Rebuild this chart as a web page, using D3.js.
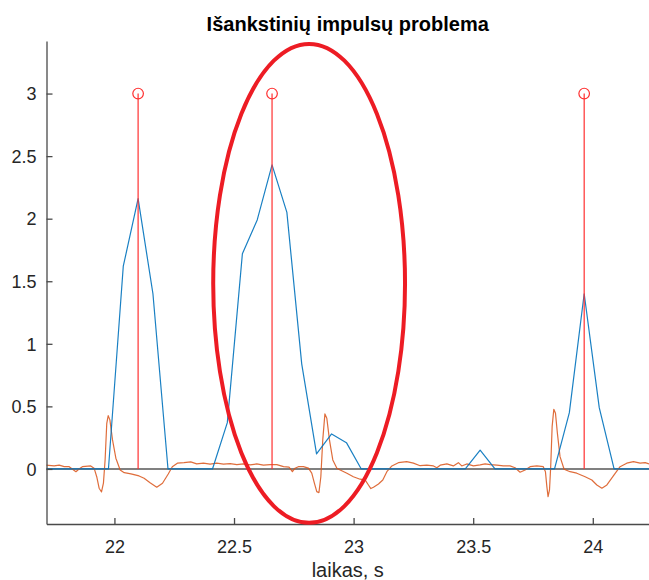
<!DOCTYPE html>
<html>
<head>
<meta charset="utf-8">
<script src="https://cdn.jsdelivr.net/npm/d3@7/dist/d3.min.js"></script>
<style>
  html, body { margin: 0; padding: 0; background: #fff; }
  svg { display: block; }
  text { font-family: "Liberation Sans", Arial, Helvetica, sans-serif; fill: #262626; }
</style>
</head>
<body>
<div id="chart"></div>
<script>
// ---------- data ----------
const titleText = "Išankstinių impulsų problema";
const xLabelText = "laikas, s";
const xTicks = [22, 22.5, 23, 23.5, 24];
const yTicks = [0, 0.5, 1, 1.5, 2, 2.5, 3];
const xDomain = [21.716, 24.235];
const yDomain = [-0.44, 3.42];

// impulse (stem) series
const stemTime = [22.099, 22.659, 23.964];
const stemValue = [3, 3, 3];

// blue (detector output) series
const blueTime = [21.70, 21.975, 22.037, 22.099, 22.161, 22.224, 22.410, 22.472, 22.535, 22.597,
                  22.659, 22.721, 22.783, 22.845, 22.908, 22.970, 23.032, 23.467, 23.529, 23.591,
                  23.840, 23.902, 23.964, 24.027, 24.089, 24.30];
const blueValue = [0, 0, 1.62, 2.16, 1.40, 0, 0, 0.37, 1.72, 1.99,
                   2.43, 2.05, 0.84, 0.12, 0.28, 0.21, 0, 0, 0.15, 0,
                   0, 0.45, 1.40, 0.49, 0, 0];

// orange (signal) series
const orangeTime = [21.713, 21.748, 21.769, 21.790, 21.811, 21.839, 21.852, 21.866, 21.901, 21.915,
  21.926, 21.936, 21.946, 21.954, 21.961, 21.968, 21.974, 21.981, 21.992, 22.006,
  22.024, 22.041, 22.069, 22.103, 22.124, 22.149, 22.177, 22.201, 22.225, 22.242,
  22.263, 22.291, 22.319, 22.344, 22.372, 22.400, 22.428, 22.456, 22.484, 22.512,
  22.539, 22.567, 22.595, 22.623, 22.651, 22.679, 22.707, 22.730, 22.744, 22.755,
  22.769, 22.790, 22.811, 22.825, 22.836, 22.846, 22.855, 22.863, 22.871, 22.880,
  22.888, 22.899, 22.913, 22.930, 22.944, 22.972, 22.999, 23.027, 23.048, 23.062,
  23.072, 23.083, 23.104, 23.122, 23.139, 23.160, 23.187, 23.222, 23.250, 23.278,
  23.306, 23.334, 23.348, 23.362, 23.390, 23.417, 23.438, 23.452, 23.473, 23.501,
  23.529, 23.550, 23.571, 23.599, 23.626, 23.654, 23.675, 23.696, 23.717, 23.738,
  23.766, 23.793, 23.802, 23.808, 23.813, 23.819, 23.824, 23.830, 23.837, 23.844,
  23.852, 23.863, 23.880, 23.905, 23.933, 23.968, 23.996, 24.017, 24.038, 24.059,
  24.086, 24.114, 24.142, 24.170, 24.198, 24.219, 24.235];
const orangeValue = [0.030, 0.024, 0.030, 0.018, 0.018, -0.022, 0.000, 0.018, 0.024, 0.006,
  -0.062, -0.154, -0.184, -0.114, 0.072, 0.365, 0.426, 0.392, 0.232, 0.086,
  -0.008, -0.030, -0.040, -0.056, -0.074, -0.110, -0.146, -0.114, -0.040, 0.018,
  0.046, 0.050, 0.056, 0.040, 0.046, 0.038, 0.046, 0.038, 0.042, 0.034,
  0.040, 0.032, 0.040, 0.030, 0.034, 0.034, 0.018, 0.014, -0.022, 0.006,
  0.018, 0.018, 0.006, -0.034, -0.114, -0.181, -0.189, -0.062, 0.232, 0.440,
  0.405, 0.232, 0.072, 0.006, -0.008, -0.034, -0.062, -0.082, -0.088, -0.128,
  -0.157, -0.146, -0.120, -0.088, -0.022, 0.024, 0.050, 0.058, 0.046, 0.026,
  0.030, 0.024, 0.010, 0.030, 0.040, 0.024, 0.050, 0.024, 0.040, 0.024,
  0.032, 0.040, 0.034, 0.030, 0.024, 0.024, 0.010, -0.026, -0.008, 0.018,
  0.024, 0.018, -0.022, -0.141, -0.221, -0.168, 0.018, 0.338, 0.477, 0.445,
  0.285, 0.098, -0.002, -0.022, -0.034, -0.062, -0.088, -0.128, -0.154, -0.128,
  -0.056, 0.018, 0.046, 0.058, 0.046, 0.050, 0.040];

// highlight ellipse annotation (data units): centre time, centre value, half-width (s), half-height
const ellipseAnno = [{ t: 22.814, v: 1.483, rt: 0.401, rv: 1.914 }];

// ---------- layout ----------
const W = 649, H = 580;
const plot = { left: 46.5, right: 649, top: 41, bottom: 524 };

const svg = d3.select("#chart").append("svg").attr("width", W).attr("height", H);

const x = d3.scaleLinear().domain(xDomain).range([plot.left, plot.right]);
const y = d3.scaleLinear().domain(yDomain).range([plot.bottom, plot.top]);

svg.append("defs").append("clipPath").attr("id", "clip")
  .append("rect").attr("x", plot.left).attr("y", plot.top)
  .attr("width", plot.right - plot.left).attr("height", plot.bottom - plot.top);

const g = svg.append("g").attr("clip-path", "url(#clip)");

// baseline of stem plot
g.append("line")
  .attr("x1", plot.left).attr("x2", plot.right)
  .attr("y1", y(0)).attr("y2", y(0))
  .attr("stroke", "#808080").attr("stroke-width", 2);

const line = d3.line().x(d => x(d[0])).y(d => y(d[1]));

// orange signal
g.append("path")
  .datum(d3.zip(orangeTime, orangeValue))
  .attr("d", line)
  .attr("fill", "none")
  .attr("stroke", "#D95319").attr("stroke-opacity", 0.85)
  .attr("stroke-width", 1.2).attr("stroke-linejoin", "round");

// blue detector output
g.append("path")
  .datum(d3.zip(blueTime, blueValue))
  .attr("d", line)
  .attr("fill", "none")
  .attr("stroke", "#0072BD").attr("stroke-opacity", 0.9)
  .attr("stroke-width", 1.2).attr("stroke-linejoin", "round");

// stems
const stems = d3.zip(stemTime, stemValue);
g.selectAll(".stem").data(stems).join("line")
  .attr("class", "stem")
  .attr("x1", d => x(d[0])).attr("x2", d => x(d[0]))
  .attr("y1", y(0)).attr("y2", d => y(d[1]))
  .attr("stroke", "#FF3030").attr("stroke-width", 1.2);
g.selectAll(".stemMark").data(stems).join("circle")
  .attr("class", "stemMark")
  .attr("cx", d => x(d[0])).attr("cy", d => y(d[1])).attr("r", 5.3)
  .attr("fill", "none").attr("stroke", "#FF3030").attr("stroke-width", 1.2);

// ---------- axes ----------
const axisColor = "#4a4a4a";
const xAxis = d3.axisBottom(x).tickValues(xTicks).tickSizeInner(-6).tickSizeOuter(0)
  .tickFormat(d3.format("~g")).tickPadding(12);
const yAxis = d3.axisLeft(y).tickValues(yTicks).tickSizeInner(-6).tickSizeOuter(0)
  .tickFormat(d3.format("~g")).tickPadding(10);

const gx = svg.append("g").attr("transform", `translate(0,${plot.bottom})`).call(xAxis);
const gy = svg.append("g").attr("transform", `translate(${plot.left},0)`).call(yAxis);
[gx, gy].forEach(a => {
  a.select(".domain").attr("stroke", axisColor).attr("stroke-width", 1.3);
  a.selectAll(".tick line").attr("stroke", axisColor).attr("stroke-width", 1.3);
  a.selectAll(".tick text").attr("fill", "#262626")
    .style("font-family", '"Liberation Sans", Arial, sans-serif').style("font-size", "18px");
});
gx.selectAll(".tick text").attr("dy", "0.95em");
gy.selectAll(".tick text").attr("dy", "0.35em");

// title and label
svg.append("text").attr("x", (plot.left + plot.right) / 2).attr("y", 31)
  .attr("text-anchor", "middle").style("font-size", "20px").style("font-weight", "bold")
  .style("fill", "#000").text(titleText);
svg.append("text").attr("x", (plot.left + plot.right) / 2).attr("y", 577)
  .attr("text-anchor", "middle").style("font-size", "20px").style("fill", "#262626").text(xLabelText);

// ---------- ellipse annotation ----------
svg.selectAll(".anno").data(ellipseAnno).join("ellipse")
  .attr("class", "anno")
  .attr("cx", d => x(d.t)).attr("cy", d => y(d.v))
  .attr("rx", d => x(d.t + d.rt) - x(d.t)).attr("ry", d => y(d.v - d.rv) - y(d.v))
  .attr("fill", "none").attr("stroke", "#ED1C24").attr("stroke-width", 4);
</script>
</body>
</html>
